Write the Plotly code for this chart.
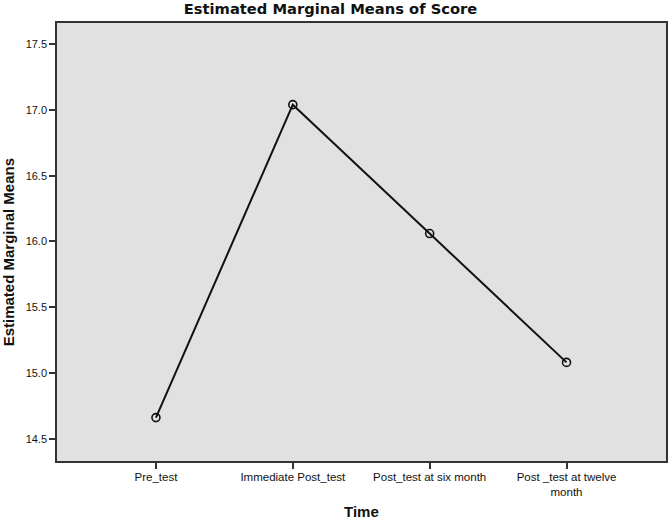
import plotly.graph_objects as go

categories = ["Pre_test", "Immediate Post_test", "Post_test at six month", "Post _test at twelve<br>month"]
means = [14.66, 17.04, 16.06, 15.08]
y_ticks = [14.5, 15.0, 15.5, 16.0, 16.5, 17.0, 17.5]
y_tick_labels = ["14.5", "15.0", "15.5", "16.0", "16.5", "17.0", "17.5"]

fig = go.Figure()
fig.add_trace(go.Scatter(
    x=categories, y=means, mode="lines+markers",
    line=dict(color="#111111", width=2),
    marker=dict(symbol="circle-open", size=8, color="#111111", line=dict(width=1.6)),
    showlegend=False,
))

font_family = "Liberation Sans, Arial, sans-serif"
fig.update_layout(
    width=669, height=520,
    margin=dict(l=57, r=1, t=23, b=59),
    paper_bgcolor="white",
    plot_bgcolor="#e1e1e1",
    font=dict(family=font_family, color="#111111", size=11),
    title=dict(text="<b>Estimated Marginal Means of Score</b>", x=0.494, xref="container",
               y=0.983, yref="container", xanchor="center", yanchor="middle",
               font=dict(size=14.7, family="DejaVu Sans, sans-serif", color="#111111")),
    xaxis=dict(type="category", range=[-0.723, 3.727], showgrid=False, zeroline=False,
               showline=True, mirror=True, linecolor="#333333", linewidth=1.5,
               ticks="outside", ticklen=6, tickwidth=1.5, tickcolor="#333333",
               ticklabelstandoff=-2,
               tickfont=dict(size=11.5, color="#111111")),
    yaxis=dict(range=[14.33, 17.661], showgrid=False, zeroline=False,
               showline=True, mirror=True, linecolor="#333333", linewidth=1.5,
               ticks="outside", ticklen=6, tickwidth=1.5, tickcolor="#333333",
               tickvals=y_ticks, ticktext=y_tick_labels,
               tickfont=dict(size=11, color="#111111")),
    annotations=[
        dict(text="<b>Estimated Marginal Means</b>", textangle=-90, xref="paper", yref="paper",
             x=-0.08, y=0.477, showarrow=False, xanchor="center", yanchor="middle",
             font=dict(size=15, family=font_family, color="#111111")),
        dict(text="<b>Time</b>", xref="paper", yref="paper", x=0.5, y=-0.116,
             showarrow=False, xanchor="center", yanchor="middle",
             font=dict(size=15, family=font_family, color="#111111")),
    ],
)

fig.write_html("out.html", post_script="document.body.style.margin='0';",
               config={"displayModeBar": False})
